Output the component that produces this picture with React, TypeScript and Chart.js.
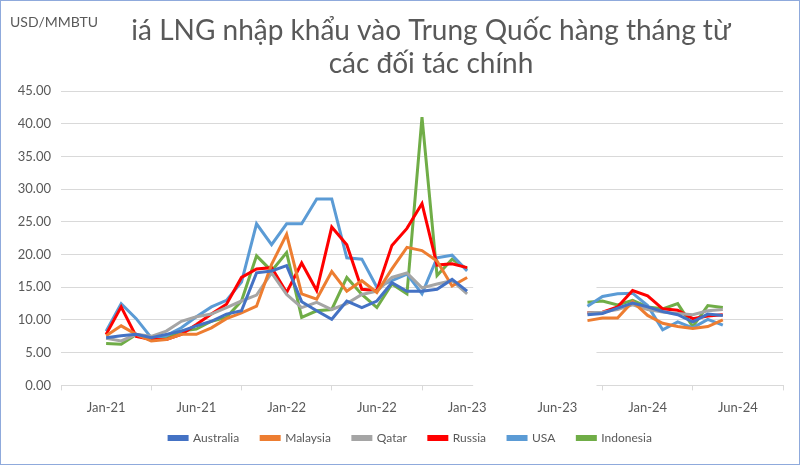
import React, { useEffect, useRef } from 'react';
import { Chart, registerables } from 'chart.js';

Chart.register(...registerables);

// ---- Data ----
const categories1 = ['Jan-21','Feb-21','Mar-21','Apr-21','May-21','Jun-21','Jul-21','Aug-21','Sep-21','Oct-21','Nov-21','Dec-21','Jan-22','Feb-22','Mar-22','Apr-22','May-22','Jun-22','Jul-22','Aug-22','Sep-22','Oct-22','Nov-22','Dec-22','Jan-23'];
const categories2 = ['Sep-23','Oct-23','Nov-23','Dec-23','Jan-24','Feb-24','Mar-24','Apr-24','May-24','Jun-24'];
const xTickLabels = ['Jan-21','Jun-21','Jan-22','Jun-22','Jan-23','Jun-23','Jan-24','Jun-24'];

const australia1 = [7.3,7.6,7.8,7.3,7.8,8.3,9.1,9.8,10.9,11.4,17.2,17.5,18.3,12.8,11.4,10.1,12.9,11.9,12.9,15.7,14.4,14.4,14.7,16.2,14.4];
const australia2 = [10.8,11.0,11.8,12.6,12.0,11.3,10.8,9.7,10.9,10.7];
const malaysia1 = [7.6,9.1,7.8,6.8,7.0,7.8,7.8,8.8,10.2,11.1,12.1,18.5,23.1,14.0,13.2,17.4,14.4,16.0,14.2,17.8,21.1,20.6,19.0,15.2,16.5];
const malaysia2 = [9.9,10.3,10.3,12.8,10.7,9.5,9.0,8.7,9.0,10.0];
const qatar1 = [7.2,6.8,7.8,7.5,8.3,9.8,10.5,10.9,11.9,12.9,13.8,17.2,13.9,11.9,12.7,11.6,12.5,13.9,14.4,16.5,17.2,14.9,15.5,16.0,14.0];
const qatar2 = [11.1,11.2,11.6,12.3,11.6,11.2,11.0,10.8,11.4,11.6];
const russia1 = [7.8,12.0,7.5,7.0,7.0,7.8,9.3,10.9,12.4,16.5,17.8,18.0,14.2,18.7,14.5,24.2,21.5,14.7,14.5,21.4,24.0,27.8,18.4,18.6,18.0];
const russia2 = [11.1,11.2,12.0,14.5,13.7,11.7,11.5,10.2,10.6,10.8];
const usa1 = [8.3,12.5,10.2,7.3,7.6,8.8,10.5,12.0,13.0,15.8,24.7,21.5,24.7,24.7,28.5,28.5,19.5,19.3,15.0,16.0,17.0,14.0,19.5,19.9,17.5];
const usa2 = [12.1,13.6,14.0,14.1,12.2,8.5,9.7,8.8,10.1,9.2];
const indonesia1 = [6.4,6.3,7.8,6.9,7.4,8.3,8.6,9.8,10.4,12.9,19.8,17.5,20.3,10.4,11.4,11.6,16.5,13.9,11.9,15.5,14.0,41.0,16.8,19.3,17.8];
const indonesia2 = [12.7,12.9,12.3,13.0,12.0,11.7,12.5,9.0,12.2,11.9];

const titleLines = ['iá LNG nhập khẩu vào Trung Quốc hàng tháng từ', 'các đối tác chính'];
const unitLabel = 'USD/MMBTU';

const MONTHS = ['Jan','Feb','Mar','Apr','May','Jun','Jul','Aug','Sep','Oct','Nov','Dec'];
const monthIndex = (label: string) => {
  const [m, y] = label.split('-');
  return (parseInt(y, 10) - 21) * 12 + MONTHS.indexOf(m);
};

const seriesDefs = [
  { label: 'Australia', color: '#4472C4', a: australia1, b: australia2 },
  { label: 'Malaysia', color: '#ED7D31', a: malaysia1, b: malaysia2 },
  { label: 'Qatar', color: '#A5A5A5', a: qatar1, b: qatar2 },
  { label: 'Russia', color: '#FF0000', a: russia1, b: russia2 },
  { label: 'USA', color: '#5B9BD5', a: usa1, b: usa2 },
  { label: 'Indonesia', color: '#70AD47', a: indonesia1, b: indonesia2 },
];

const FONT = 'Lato';
const TEXT = '#595959';
const GRID = '#D9D9D9';

const decorPlugin = {
  id: 'decor',
  afterLayout(chart: any) {
    const lg = chart.legend;
    if (lg) {
      lg.left += 19;
      lg.right += 19;
      lg.top -= 16;
      lg.bottom -= 16;
    }
  },
  beforeDatasetsDraw(chart: any) {
    const { ctx, chartArea, scales } = chart;
    const xs = scales.x;
    const ys = scales.y;
    ctx.save();
    ctx.fillStyle = '#FFFFFF';
    const x1 = xs.getPixelForValue(24.4);
    const x2 = xs.getPixelForValue(32.6);
    const y1 = ys.getPixelForValue(18);
    ctx.fillRect(x1, y1, x2 - x1, chartArea.bottom + 7 - y1);
    ctx.restore();
  },
  afterDraw(chart: any) {
    const { ctx, width, height } = chart;
    ctx.save();
    ctx.fillStyle = TEXT;
    ctx.textBaseline = 'middle';
    ctx.textAlign = 'left';
    ctx.font = `14px ${FONT}`;
    ctx.fillText(unitLabel, 10, 22);
    ctx.textAlign = 'center';
    ctx.font = `28px ${FONT}`;
    ctx.fillText(titleLines[0], 431, 31);
    ctx.fillText(titleLines[1], 431, 64);
    ctx.strokeStyle = '#8FAADC';
    ctx.lineWidth = 1;
    ctx.strokeRect(0.5, 0.5, width - 1, height - 1);
    ctx.restore();
  },
};

export default function App() {
  const ref = useRef<HTMLCanvasElement | null>(null);
  useEffect(() => {
    if (!ref.current) return;
    const datasets = seriesDefs.map((s) => ({
      label: s.label,
      borderColor: s.color,
      backgroundColor: s.color,
      borderWidth: 3,
      pointRadius: 0,
      pointHoverRadius: 0,
      fill: false,
      tension: 0,
      spanGaps: false,
      xAxisID: 'x',
      yAxisID: 'y',
      data: [
        ...categories1.map((c, i) => ({ x: monthIndex(c), y: s.a[i] })),
        { x: monthIndex(categories1[categories1.length - 1]) + 1, y: null },
        ...categories2.map((c, i) => ({ x: monthIndex(c), y: s.b[i] })),
      ],
    }));
    const chart = new Chart(ref.current, {
      type: 'line',
      data: { datasets } as any,
      plugins: [decorPlugin],
      options: {
        animation: false,
        responsive: false,
        events: [],
        layout: { padding: { top: 91, left: 0, right: 17, bottom: -5 } },
        plugins: {
          legend: {
            position: 'bottom',
            labels: {
              boxWidth: 18,
              boxHeight: 3,
              padding: 22,
              color: TEXT,
              font: { family: FONT, size: 12 },
            },
          },
          tooltip: { enabled: false },
          title: { display: false },
        },
        scales: {
          x: {
            type: 'linear',
            display: false,
            min: -3,
            max: 45,
          },
          xLab: {
            type: 'category',
            position: 'bottom',
            labels: xTickLabels,
            offset: true,
            grid: {
              offset: true,
              drawOnChartArea: false,
              drawTicks: true,
              tickLength: 5,
              color: GRID,
            },
            border: { display: true, color: GRID, width: 1 },
            ticks: {
              color: TEXT,
              font: { family: FONT, size: 13 },
              padding: 10,
              maxRotation: 0,
              autoSkip: false,
            },
          },
          y: {
            type: 'linear',
            min: 0,
            max: 45,
            afterFit: (scale: any) => { scale.width = 61; },
            grid: { color: GRID, lineWidth: 1, drawTicks: false },
            border: { display: false },
            ticks: {
              stepSize: 5,
              padding: 10,
              color: TEXT,
              font: { family: FONT, size: 13 },
              callback: (v: any) => Number(v).toFixed(2),
            },
          },
        },
      } as any,
    });
    return () => chart.destroy();
  }, []);
  return (
    <div style={{ position: 'absolute', left: 0, top: 0, width: 800, height: 465, background: '#fff' }}>
      <canvas ref={ref} width={800} height={465} />
    </div>
  );
}
